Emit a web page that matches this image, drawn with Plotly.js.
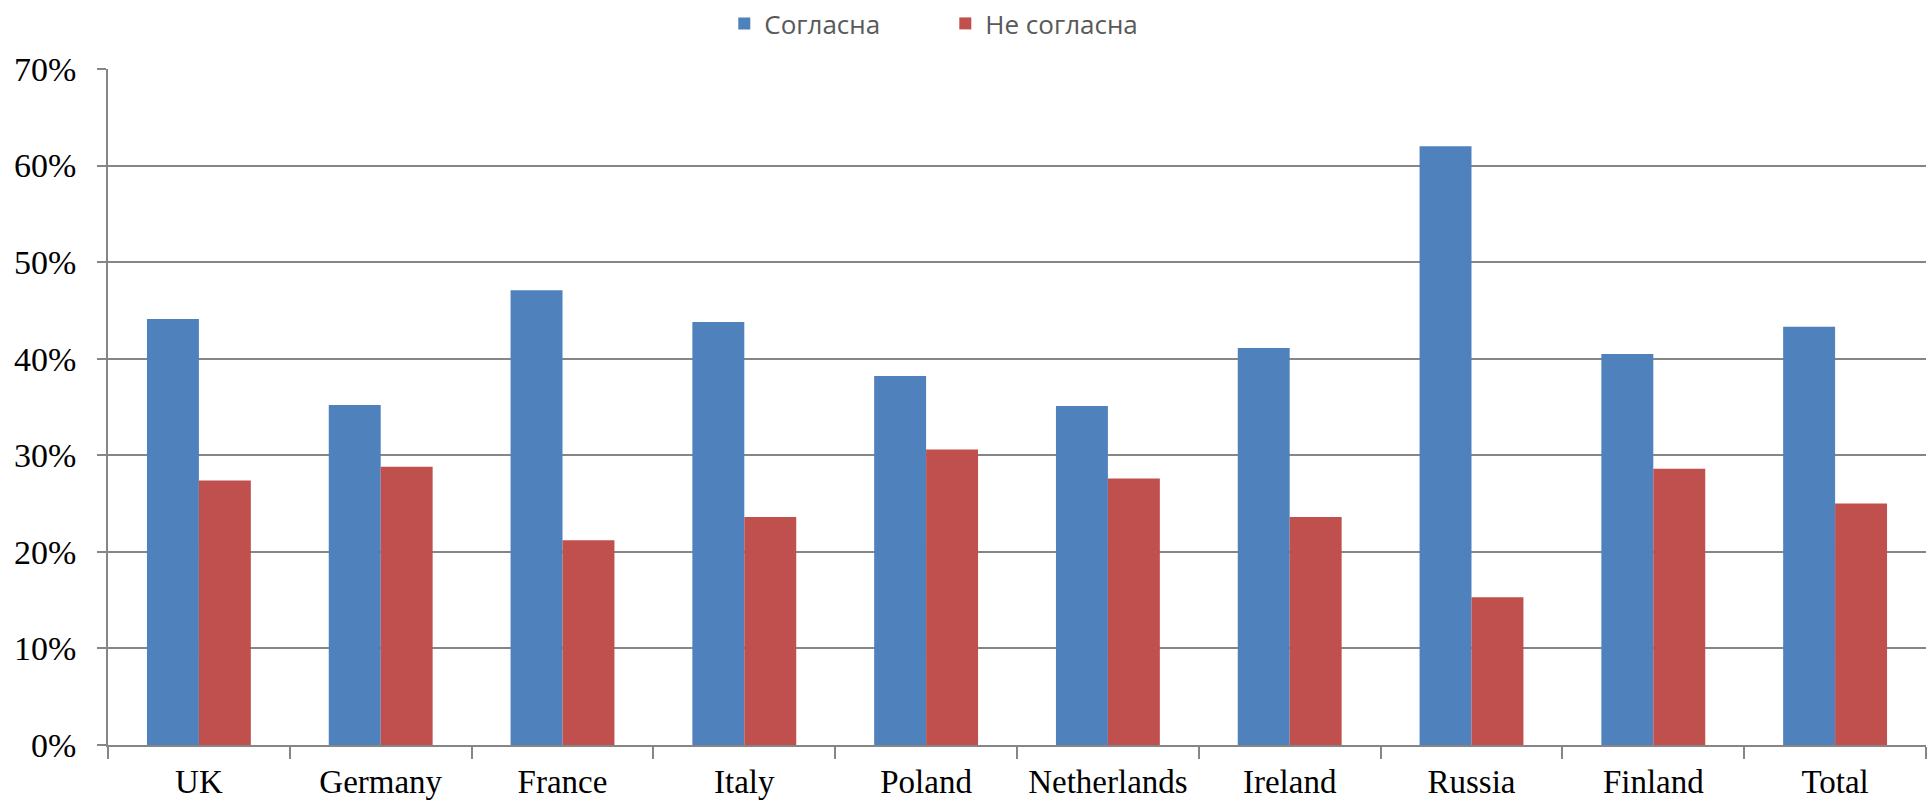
<!DOCTYPE html>
<html>
<head>
<meta charset="utf-8">
<script src="https://cdn.plot.ly/plotly-3.0.1.min.js"></script>
<style>html,body{margin:0;padding:0;background:#fff;}#chart{width:1928px;height:803px;}</style>
</head>
<body>
<div id="chart"></div>
<script>
const categories = ["UK", "Germany", "France", "Italy", "Poland", "Netherlands", "Ireland", "Russia", "Finland", "Total"];
const agreeName = "Согласна";
const disagreeName = "Не согласна";
const agreeValues = [0.441, 0.352, 0.471, 0.438, 0.382, 0.351, 0.411, 0.620, 0.405, 0.433];
const disagreeValues = [0.274, 0.288, 0.212, 0.236, 0.306, 0.276, 0.236, 0.153, 0.286, 0.250];
const yTickValues = [0, 0.1, 0.2, 0.3, 0.4, 0.5, 0.6, 0.7];

const traces = [
  {type: "bar", name: agreeName, x: categories, y: agreeValues,
   marker: {color: "#4F81BD", line: {color: "#4F81BD", width: 0}}, hoverinfo: "x+y"},
  {type: "bar", name: disagreeName, x: categories, y: disagreeValues,
   marker: {color: "#C0504D", line: {color: "#C0504D", width: 0}}, hoverinfo: "x+y"}
];

const layout = {
  width: 1928, height: 803,
  margin: {l: 108, r: 2, t: 69, b: 58},
  paper_bgcolor: "#ffffff", plot_bgcolor: "#ffffff",
  barmode: "group", bargap: 0.4286, bargroupgap: 0,
  showlegend: true,
  legend: {orientation: "h", x: 0.339, xref: "paper", xanchor: "left", y: 1.0, yref: "container", yanchor: "top",
           font: {family: "Open Sans, Noto Sans, sans-serif", size: 26, color: "#595959"},
           itemwidth: 30, entrywidth: 176, entrywidthmode: "pixels", tracegroupgap: 0},
  xaxis: {
    type: "category", showgrid: false, showline: true, linecolor: "#868686", linewidth: 1.5,
    ticks: "outside", tickson: "boundaries", ticklen: 12, tickcolor: "#868686", tickwidth: 1.5,
    ticklabelstandoff: 7,
    tickfont: {family: "Liberation Serif, Times New Roman, serif", size: 33, color: "#000000"},
    fixedrange: true
  },
  yaxis: {
    range: [0, 0.7], tickvals: yTickValues, tickformat: ".0%",
    showgrid: true, gridcolor: "#868686", gridwidth: 1.5,
    showline: true, linecolor: "#868686", linewidth: 1.5,
    ticks: "outside", ticklen: 9, tickcolor: "#868686", tickwidth: 1.5,
    ticklabelstandoff: 14,
    tickfont: {family: "Liberation Serif, Times New Roman, serif", size: 34, color: "#000000"},
    zeroline: false, fixedrange: true
  }
};

Plotly.newPlot("chart", traces, layout, {displayModeBar: false, staticPlot: false});
</script>
</body>
</html>
